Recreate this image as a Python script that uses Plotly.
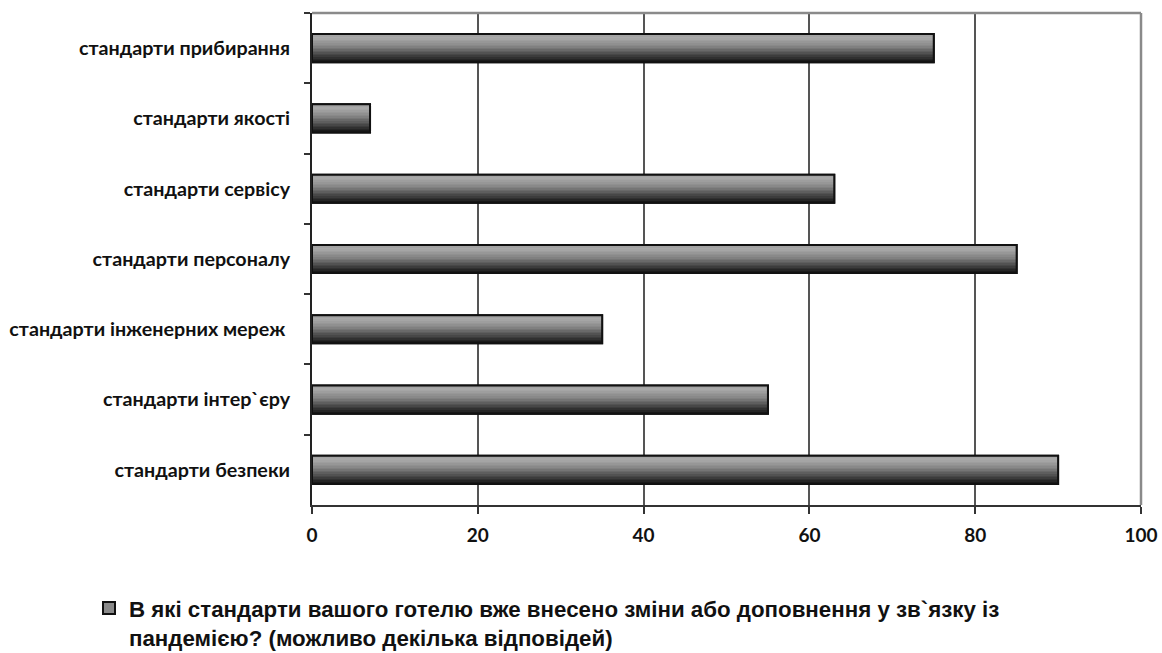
import plotly.graph_objects as go
from plotly.colors import sample_colorscale

# Survey categories (top to bottom) and share of hotels, %
categories = [
    "стандарти прибирання",
    "стандарти якості",
    "стандарти сервісу",
    "стандарти персоналу",
    "стандарти інженерних мереж ",
    "стандарти інтер`єру",
    "стандарти безпеки",
]
values = [75, 7, 63, 85, 35, 55, 90]
x_ticks = [0, 20, 40, 60, 80, 100]

series_name = ("В які стандарти вашого готелю вже внесено зміни або доповнення у зв`язку із"
               "<br>пандемією? (можливо декілька відповідей)")

BAR_W = 0.4
N_SLICES = 18
# vertical shading of each bar: light at the top, dark at the bottom
shade = [[0.0, "#9a9a9a"], [0.15, "#aaaaaa"], [0.45, "#858585"],
         [0.75, "#474747"], [1.0, "#141414"]]

fig = go.Figure()

# base bar (also provides the legend swatch)
fig.add_trace(go.Bar(
    y=categories, x=values, orientation="h", width=BAR_W,
    marker=dict(color="#8a8a8a", line=dict(color="#111111", width=2)),
    name=series_name, showlegend=True, hoverinfo="skip",
))

# thin overlapping slices that build up the gradient fill
step = BAR_W / N_SLICES
for k in range(N_SLICES):
    col = sample_colorscale(shade, [(k + 0.5) / N_SLICES])[0]
    fig.add_trace(go.Bar(
        y=categories, x=values, orientation="h",
        width=step * 1.25, offset=-BAR_W / 2 + k * step,
        marker=dict(color=col, line=dict(width=0)),
        showlegend=False, hoverinfo="skip",
    ))

# dark outline on top
fig.add_trace(go.Bar(
    y=categories, x=values, orientation="h", width=BAR_W,
    marker=dict(color="rgba(0,0,0,0)", line=dict(color="#111111", width=2)),
    showlegend=False, hoverinfo="skip",
))

PLOT_L, PLOT_R, PLOT_T, PLOT_B = 312, 1141, 13, 505
plot_w = PLOT_R - PLOT_L
plot_h = PLOT_B - PLOT_T

fig.update_layout(
    width=1162, height=653,
    margin=dict(l=PLOT_L, r=1162 - PLOT_R, t=PLOT_T, b=653 - PLOT_B, autoexpand=False),
    paper_bgcolor="white", plot_bgcolor="white",
    barmode="overlay",
    showlegend=True,
    legend=dict(
        x=(89 - PLOT_L) / plot_w, y=(PLOT_B - 587) / plot_h,
        xanchor="left", yanchor="top",
        font=dict(family="Liberation Sans, Arial, sans-serif", size=22.3, color="#111111",
                  weight="bold"),
        itemsizing="constant", itemwidth=30, valign="top", bgcolor="rgba(0,0,0,0)",
        tracegroupgap=0,
    ),
    xaxis=dict(
        range=[0, 100], tickvals=x_ticks, ticktext=[str(v) for v in x_ticks],
        showgrid=True, gridcolor="#555555", gridwidth=1.5,
        showline=True, linecolor="#333333", linewidth=2,
        ticks="outside", ticklen=7, tickcolor="#333333", tickwidth=1.5,
        ticklabelstandoff=5, zeroline=False, automargin=False, tickangle=0,
        tickfont=dict(family="Lato, Carlito, sans-serif", size=19, color="#111111",
                      weight="bold"),
    ),
    yaxis=dict(
        categoryorder="array", categoryarray=categories, autorange="reversed",
        showline=True, linecolor="#222222", linewidth=2,
        ticks="outside", tickson="boundaries", ticklen=6, tickcolor="#333333",
        tickwidth=1.5, ticklabelstandoff=16, showgrid=False, automargin=False,
        tickfont=dict(family="Lato, Carlito, sans-serif", size=19.7, color="#111111",
                      weight="bold"),
    ),
    shapes=[
        dict(type="line", xref="paper", yref="paper", x0=0, x1=1, y0=1, y1=1,
             line=dict(color="#8a8a8a", width=2.5)),
        dict(type="line", xref="paper", yref="paper", x0=1, x1=1, y0=0, y1=1,
             line=dict(color="#8a8a8a", width=2.5)),
    ],
)

fig.write_html("out.html")
